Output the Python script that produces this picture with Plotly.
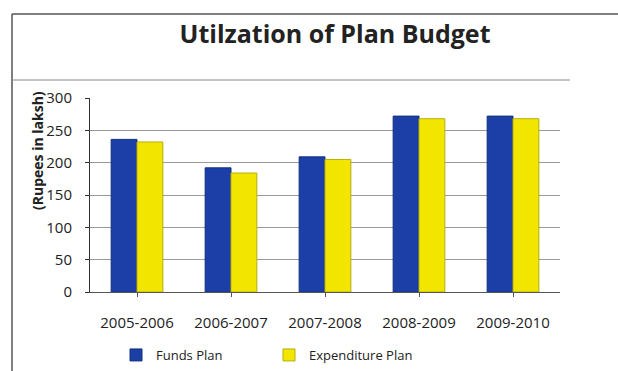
import plotly.graph_objects as go

categories = ["2005-2006", "2006-2007", "2007-2008", "2008-2009", "2009-2010"]
funds_plan = [236, 192, 209, 272, 272]
expenditure_plan = [232, 184, 205, 268, 268]
y_ticks = [0, 50, 100, 150, 200, 250, 300]

W, H = 618, 371
L, R, T, B = 90, 58, 98, 79
pw, ph = W - L - R, H - T - B

def px_x(x):
    return (x - L) / pw

def px_y(y):
    return (H - B - y) / ph

fig = go.Figure()
fig.add_trace(go.Bar(x=categories, y=funds_plan, name="Funds Plan",
                     marker=dict(color="#1b3fa6", line=dict(color="#13307f", width=1))))
fig.add_trace(go.Bar(x=categories, y=expenditure_plan, name="Expenditure Plan",
                     marker=dict(color="#f2e600", line=dict(color="#b5ad10", width=1))))

fig.update_layout(
    width=W, height=H,
    margin=dict(l=L, r=R, t=T, b=B, autoexpand=False),
    paper_bgcolor="white", plot_bgcolor="white",
    font=dict(family="Open Sans", color="#222"),
    bargap=0.45, bargroupgap=0.0,
    title=dict(text="<b>Utilzation of Plan Budget</b>", x=335 / W, xanchor="center",
               y=1 - 34 / H, yanchor="middle", font=dict(size=25, color="#222")),
    xaxis=dict(showline=True, linecolor="#555", linewidth=1, ticks="outside",
               tickcolor="#555", ticklen=4, ticklabelstandoff=13,
               tickfont=dict(size=15, color="#222")),
    yaxis=dict(range=[0, 300], tickvals=y_ticks, showline=True, linecolor="#333",
               linewidth=1, ticks="outside", tickcolor="#333", ticklen=4,
               ticklabelstandoff=10,
               gridcolor="#9a9a9a", gridwidth=1, tickfont=dict(size=15, color="#222"),
               zeroline=False),
    legend=dict(orientation="h", x=px_x(116), xanchor="left", y=px_y(370), yanchor="bottom",
                font=dict(size=13, color="#222"), itemwidth=30,
                entrywidth=108, entrywidthmode="pixels", traceorder="normal"),
    showlegend=True,
)

fig.add_annotation(text="<b>(Rupees in laksh)</b>", textangle=-90, xref="paper", yref="paper",
                   x=px_x(37), y=px_y(151), xanchor="center", yanchor="middle",
                   showarrow=False, font=dict(size=14, color="#222"))

# frame lines of the scanned chart box
fig.add_shape(type="line", xref="paper", yref="paper", x0=px_x(12), x1=px_x(630),
              y0=px_y(14), y1=px_y(14), line=dict(color="#555", width=1.5))
fig.add_shape(type="line", xref="paper", yref="paper", x0=px_x(12), x1=px_x(12),
              y0=px_y(14), y1=px_y(390), line=dict(color="#555", width=1.5))
fig.add_shape(type="line", xref="paper", yref="paper", x0=px_x(12), x1=px_x(570),
              y0=px_y(80), y1=px_y(80), line=dict(color="#888", width=1))

fig.write_html("out.html")
